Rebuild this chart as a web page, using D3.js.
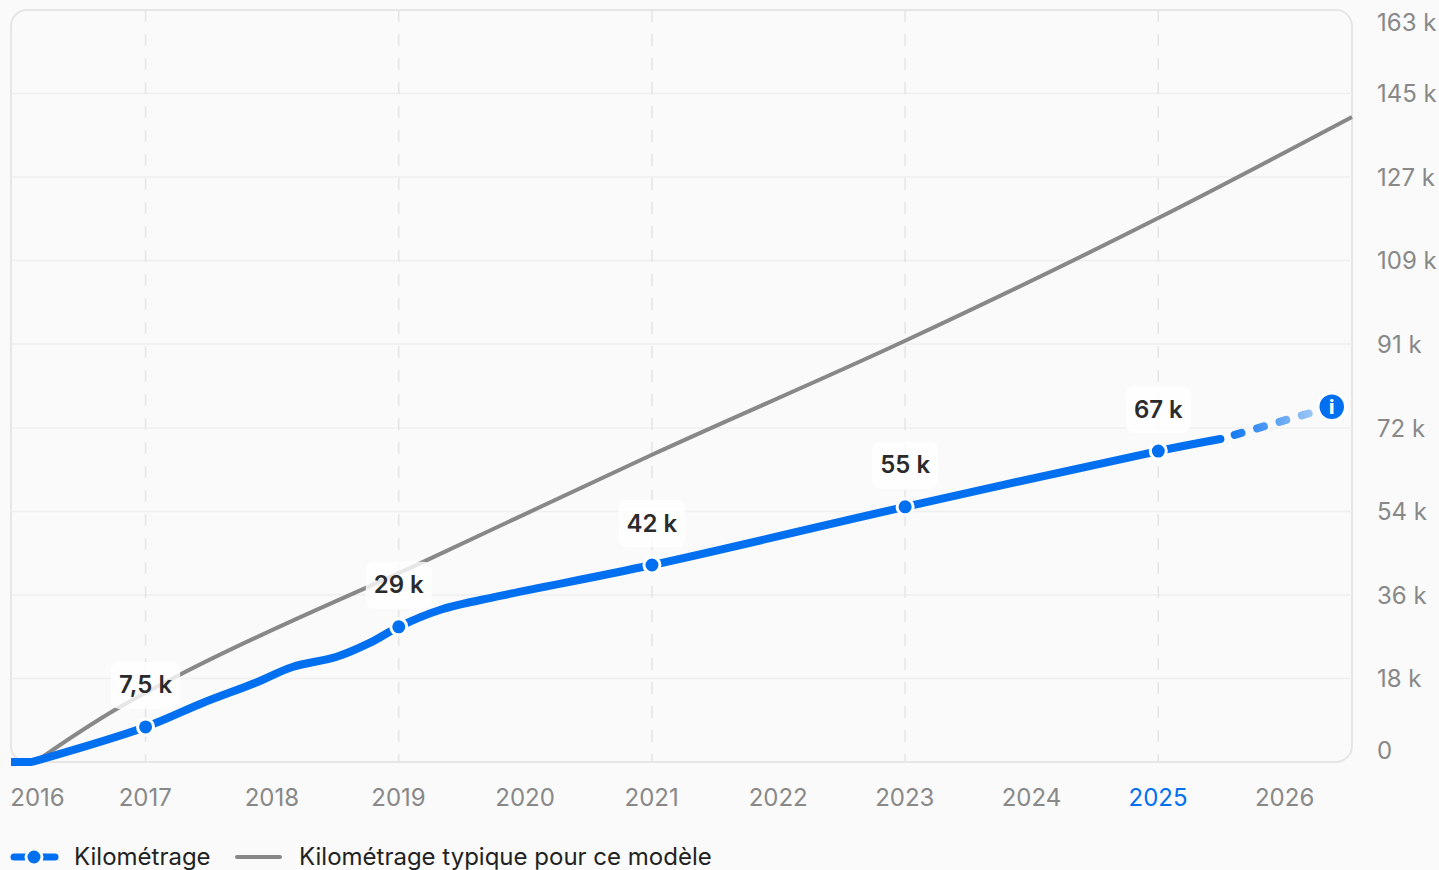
<!DOCTYPE html>
<html>
<head>
<meta charset="utf-8">
<script src="https://cdn.jsdelivr.net/npm/d3@7"></script>
<style>
  html, body { margin: 0; padding: 0; background: #fafafa; overflow: hidden; }
  svg { display: block; font-family: Inter, sans-serif; }
</style>
</head>
<body>
<svg id="chart" width="1439" height="870"></svg>
<script>
// values (km in thousands, time in decimal years)
const yearTicks = [2016, 2017, 2018, 2019, 2020, 2021, 2022, 2023, 2024, 2025, 2026];
const gridYears = [2017, 2019, 2021, 2023, 2025];
const kmTicks = [0, 18.1, 36.2, 54.3, 72.4, 90.6, 108.7, 126.8, 144.9, 163];

const flatYears = [2015.937, 2016.10];
const flatKm = [0, 0];

const mileageYears = [2016.10, 2017, 2017.45, 2017.88, 2018.16, 2018.51, 2018.77, 2019, 2019.33, 2019.8, 2021, 2023, 2025, 2025.49];
const mileageKm = [0, 7.6, 12.8, 17.3, 20.6, 22.8, 25.8, 29.3, 33, 36, 42.7, 55.3, 67.4, 70.0];

const projectedYears = [2025.49, 2026.37];
const projectedKm = [70.0, 77];

const typicalYears = [2016.127, 2016.206, 2016.77, 2017.27, 2019.21, 2021, 2023, 2025, 2026.53];
const typicalKm = [0, 1.5, 11.5, 18.9, 43.6, 66.6, 91.3, 117.9, 139.8];

const markerYears = [2017, 2019, 2021, 2023, 2025];
const markerKm = [7.6, 29.3, 42.7, 55.3, 67.4];
const markerLabels = ['7,5 k', '29 k', '42 k', '55 k', '67 k'];

const legendLabels = ['Kilométrage', 'Kilométrage typique pour ce modèle'];

const blue = '#0070f0';
const grey = '#888888';
const gridColor = '#efefef';
const borderColor = '#e6e6e6';

const plot = { left: 11, right: 1352, top: 10, bottom: 762 };

const svg = d3.select('#chart');

const x = d3.scaleLinear().domain([2015.937, 2026.53]).range([plot.left, plot.right]);
const y = d3.scaleLinear().domain([0, 163]).range([plot.bottom, plot.top]);

// plot frame
svg.append('rect')
  .attr('x', plot.left).attr('y', plot.top)
  .attr('width', plot.right - plot.left).attr('height', plot.bottom - plot.top)
  .attr('rx', 16)
  .attr('fill', '#fafafa')
  .attr('stroke', borderColor)
  .attr('stroke-width', 2);

// horizontal grid
svg.append('g')
  .selectAll('line')
  .data(kmTicks.slice(1, -1))
  .join('line')
  .attr('x1', plot.left).attr('x2', plot.right)
  .attr('y1', d => y(d)).attr('y2', d => y(d))
  .attr('stroke', gridColor)
  .attr('stroke-width', 1.5);

// vertical dashed grid
svg.append('g')
  .selectAll('line')
  .data(gridYears)
  .join('line')
  .attr('x1', d => x(d)).attr('x2', d => x(d))
  .attr('y1', plot.top).attr('y2', plot.bottom)
  .attr('stroke', '#e4e4e4')
  .attr('stroke-width', 1.5)
  .attr('stroke-dasharray', '12 12');

// axes
const xAxis = svg.append('g')
  .attr('transform', `translate(0,${plot.bottom})`)
  .call(d3.axisBottom(x).tickValues(yearTicks).tickFormat(d3.format('d')).tickSize(0).tickPadding(27));
xAxis.select('.domain').remove();
xAxis.selectAll('text')
  .attr('font-size', 24).attr('font-family', 'Inter, sans-serif')
  .attr('fill', d => d === 2025 ? blue : grey)
  .attr('dx', d => d === 2016 ? 18 : -0.8);

const yAxis = svg.append('g')
  .attr('transform', `translate(${plot.right},0)`)
  .call(d3.axisRight(y).tickValues(kmTicks).tickFormat(d => d === 0 ? '0' : Math.round(d) + ' k').tickSize(0).tickPadding(25));
yAxis.select('.domain').remove();
yAxis.selectAll('text')
  .attr('font-size', 24).attr('font-family', 'Inter, sans-serif')
  .attr('fill', grey)
  .attr('dy', d => d === 0 ? '-0.14em' : d === 163 ? '0.84em' : '0.34em');

// series
const lineGen = d3.line().x(d => x(d[0])).y(d => y(d[1]));

svg.append('path')
  .datum(d3.zip(typicalYears, typicalKm))
  .attr('d', lineGen.curve(d3.curveMonotoneX))
  .attr('fill', 'none')
  .attr('stroke', grey)
  .attr('stroke-width', 4);

svg.append('path')
  .datum(d3.zip(flatYears, flatKm))
  .attr('d', lineGen.curve(d3.curveLinear))
  .attr('fill', 'none')
  .attr('stroke', blue)
  .attr('stroke-width', 8);

svg.append('path')
  .datum(d3.zip(mileageYears, mileageKm))
  .attr('d', lineGen.curve(d3.curveCatmullRom))
  .attr('fill', 'none')
  .attr('stroke', blue)
  .attr('stroke-width', 8)
  .attr('stroke-linecap', 'round');

// projected part fades out towards the info marker
const fade = svg.append('defs').append('linearGradient')
  .attr('id', 'fade')
  .attr('gradientUnits', 'userSpaceOnUse')
  .attr('x1', x(projectedYears[0])).attr('x2', x(projectedYears[1]))
  .attr('y1', 0).attr('y2', 0);
fade.append('stop').attr('offset', 0).attr('stop-color', blue);
fade.append('stop').attr('offset', 1).attr('stop-color', blue).attr('stop-opacity', 0.25);

svg.append('path')
  .datum(d3.zip(projectedYears, projectedKm))
  .attr('d', lineGen.curve(d3.curveLinear))
  .attr('fill', 'none')
  .attr('stroke', 'url(#fade)')
  .attr('stroke-width', 8)
  .attr('stroke-linecap', 'round')
  .attr('stroke-dasharray', '7 16.3')
  .attr('stroke-dashoffset', -15);

// value labels
const labels = svg.append('g')
  .selectAll('g')
  .data(d3.zip(markerYears, markerKm, markerLabels))
  .join('g')
  .attr('transform', d => `translate(${x(d[0])},${y(d[1])})`);

labels.append('rect')
  .attr('y', -65).attr('height', 47).attr('rx', 8)
  .attr('fill', '#ffffff').attr('fill-opacity', 0.8);

labels.append('text')
  .attr('y', -33.5)
  .attr('text-anchor', 'middle')
  .attr('font-size', 24)
  .attr('font-weight', 600)
  .attr('fill', '#2b2b2b')
  .text(d => d[2]);

labels.each(function () {
  const w = d3.select(this).select('text').node().getComputedTextLength() + 16;
  d3.select(this).select('rect').attr('x', -w / 2).attr('width', w);
});

labels.append('circle')
  .attr('r', 8)
  .attr('fill', blue)
  .attr('stroke', '#ffffff')
  .attr('stroke-width', 3);

// info marker at the end of the projection
const info = svg.append('g')
  .attr('transform', `translate(${x(projectedYears[1])},${y(projectedKm[1])})`);
info.append('circle')
  .attr('r', 14)
  .attr('fill', blue)
  .attr('stroke', '#ffffff')
  .attr('stroke-width', 3.5);
info.append('text')
  .attr('y', 7)
  .attr('text-anchor', 'middle')
  .attr('font-size', 19)
  .attr('font-weight', 800)
  .attr('fill', '#ffffff')
  .text('i');

// legend
const legend = svg.append('g').attr('transform', 'translate(0,857)');
legend.append('line')
  .attr('x1', 14).attr('x2', 55)
  .attr('stroke', blue).attr('stroke-width', 7)
  .attr('stroke-linecap', 'round');
legend.append('circle')
  .attr('cx', 34).attr('r', 8)
  .attr('fill', blue).attr('stroke', '#fafafa').attr('stroke-width', 3);
legend.append('line')
  .attr('x1', 237).attr('x2', 280)
  .attr('stroke', grey).attr('stroke-width', 4)
  .attr('stroke-linecap', 'round');
legend.selectAll('text')
  .data(legendLabels)
  .join('text')
  .attr('x', (d, i) => i === 0 ? 74 : 299)
  .attr('y', 8)
  .attr('font-size', 24)
  .attr('fill', '#222222')
  .text(d => d);
</script>
</body>
</html>
